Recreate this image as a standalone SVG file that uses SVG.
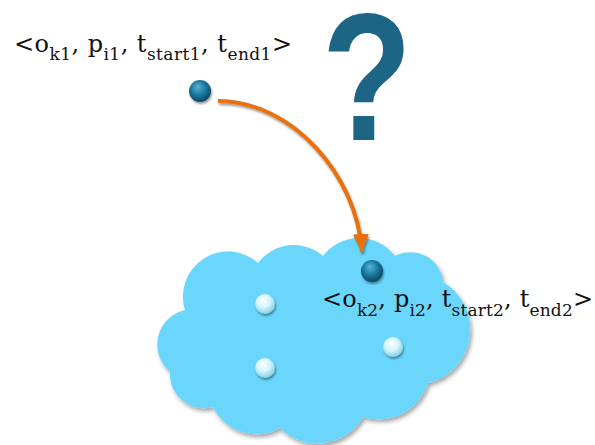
<svg xmlns="http://www.w3.org/2000/svg" width="595" height="445" viewBox="0 0 595 445">
  <style>
    .t { font-family: "DejaVu Serif", "Liberation Serif", serif; font-size: 24px; fill: #111; }
    .s { font-size: 17px; }
    .q { font-family: "Liberation Sans", Arial, sans-serif; font-weight: bold; font-size: 172px; fill: #1d6585; }
    .dark { fill: url(#gDark); }
    .light { fill: url(#gLight); }
  </style>
  <defs>
    <radialGradient id="gDark" cx="0.45" cy="0.4" r="0.6" fx="0.4" fy="0.3">
      <stop offset="0" stop-color="#5cb2d4"/>
      <stop offset="0.55" stop-color="#1b7aa2"/>
      <stop offset="1" stop-color="#0a4763"/>
    </radialGradient>
    <radialGradient id="gLight" cx="0.45" cy="0.4" r="0.6" fx="0.4" fy="0.3">
      <stop offset="0" stop-color="#ffffff"/>
      <stop offset="0.55" stop-color="#d4f5fd"/>
      <stop offset="1" stop-color="#86cfe3"/>
    </radialGradient>
    <filter id="sh" x="-20%" y="-20%" width="140%" height="140%">
      <feDropShadow dx="2" dy="3" stdDeviation="2" flood-color="#000" flood-opacity="0.35"/>
    </filter>
    <filter id="shs" x="-50%" y="-50%" width="200%" height="200%">
      <feDropShadow dx="1" dy="2" stdDeviation="1.2" flood-color="#000" flood-opacity="0.4"/>
    </filter>
    <marker id="ah" viewBox="0 0 10 10" refX="10" refY="5" markerWidth="18" markerHeight="18" markerUnits="userSpaceOnUse" orient="auto">
      <path d="M0,0.5 L10,5 L0,9.5 z" fill="#e8700c"/>
    </marker>
  </defs>

  <g id="cloud">
    <path filter="url(#sh)" fill="#6bd6fc" d="M170,372 A35.6,35.6 0 0 1 185,310 A45,45 0 0 1 258,263 A44.7,44.7 0 0 1 323,256 A45,45 0 0 1 395,256 A32.7,32.7 0 0 1 443,282 A55,55 0 0 1 428,383 A52,52 0 0 1 363,417 A52.5,52.5 0 0 1 280,428 A48,48 0 0 1 213,407 A34,34 0 0 1 170,372 Z"/>
  </g>

  <g id="question">
    <text class="q" x="0" y="0" text-anchor="middle" transform="translate(367,140) scale(0.86,1.06)">?</text>
  </g>

  <g id="connectors">
    <path d="M218,101 C292,101 357,175 362,252" fill="none" stroke="#e8700c" stroke-width="4" marker-end="url(#ah)" filter="url(#shs)"/>
  </g>

  <g id="node1">
    <circle class="dark" cx="200" cy="91" r="11" filter="url(#shs)"/>
    <text class="t" x="14" y="52" textLength="278" lengthAdjust="spacing">&lt;o<tspan class="s" dy="8">k1</tspan><tspan dy="-8">, p</tspan><tspan class="s" dy="8">i1</tspan><tspan dy="-8">, t</tspan><tspan class="s" dy="8">start1</tspan><tspan dy="-8">, t</tspan><tspan class="s" dy="8">end1</tspan><tspan dy="-8">&gt;</tspan></text>
  </g>

  <g id="node2">
    <circle class="dark" cx="372" cy="271" r="11" filter="url(#shs)"/>
    <text class="t" x="322" y="307" textLength="271" lengthAdjust="spacing">&lt;o<tspan class="s" dy="9">k2</tspan><tspan dy="-9">, p</tspan><tspan class="s" dy="9">i2</tspan><tspan dy="-9">, t</tspan><tspan class="s" dy="9">start2</tspan><tspan dy="-9">, t</tspan><tspan class="s" dy="9">end2</tspan><tspan dy="-9">&gt;</tspan></text>
  </g>

  <g id="p1"><circle class="light" cx="265" cy="304" r="10" filter="url(#shs)"/></g>
  <g id="p2"><circle class="light" cx="265" cy="368" r="10" filter="url(#shs)"/></g>
  <g id="p3"><circle class="light" cx="393" cy="347" r="10" filter="url(#shs)"/></g>
</svg>
